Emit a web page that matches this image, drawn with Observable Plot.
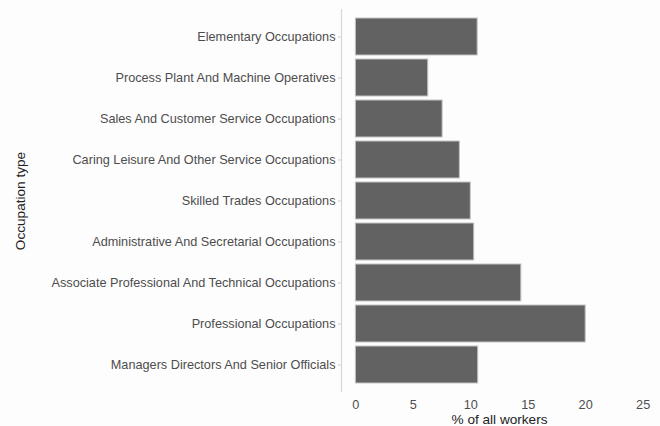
<!DOCTYPE html>
<html>
<head>
<meta charset="utf-8">
<script src="https://cdn.jsdelivr.net/npm/d3@7"></script>
<script src="https://cdn.jsdelivr.net/npm/@observablehq/plot@0.6"></script>
<style>
  html, body { margin: 0; padding: 0; background: #fdfdfd; }
  #chart svg { display: block; font-family: "Liberation Sans", Arial, sans-serif; }
</style>
</head>
<body>
<div id="chart"></div>
<script>
const occupations = [
  "Elementary Occupations",
  "Process Plant And Machine Operatives",
  "Sales And Customer Service Occupations",
  "Caring Leisure And Other Service Occupations",
  "Skilled Trades Occupations",
  "Administrative And Secretarial Occupations",
  "Associate Professional And Technical Occupations",
  "Professional Occupations",
  "Managers Directors And Senior Officials"
];
const percents = [10.6, 6.3, 7.55, 9.05, 10.0, 10.3, 14.4, 20.0, 10.65];
const xTicks = [0, 5, 10, 15, 20, 25];

const data = occupations.map((o, i) => ({occupation: o, pct: percents[i]}));

const chart = Plot.plot({
  width: 660,
  height: 426,
  marginLeft: 341,
  marginRight: 3,
  marginTop: 9,
  marginBottom: 34,
  style: {background: "#fdfdfd", fontFamily: "Liberation Sans, Arial, sans-serif"},
  x: {domain: [-1.25, 26.25]},
  y: {domain: occupations, paddingInner: 0.1, paddingOuter: 0.15},
  marks: [
    Plot.barX(data, {x: "pct", y: "occupation", fill: "#626262", stroke: "#c4c4c4", strokeWidth: 1}),
    Plot.ruleX([-1.25], {stroke: "#d6d6d6", strokeWidth: 1.2}),
    Plot.axisY({tickSize: 3, tickPadding: 3, fontSize: 12.7, color: "#4d4d4d", stroke: "#cfcfcf", label: null}),
    Plot.axisX({ticks: xTicks, tickSize: 0, tickPadding: 7, fontSize: 12.7, color: "#4d4d4d", label: null}),
    Plot.text(["% of all workers"], {frameAnchor: "bottom", text: d => d, dy: 31, fontSize: 13.6, fill: "#222"}),
    Plot.text(["Occupation type"], {frameAnchor: "left", text: d => d, dx: -321, rotate: -90, textAnchor: "middle", fontSize: 13.6, fill: "#222"})
  ]
});
document.getElementById("chart").appendChild(chart);
</script>
</body>
</html>
